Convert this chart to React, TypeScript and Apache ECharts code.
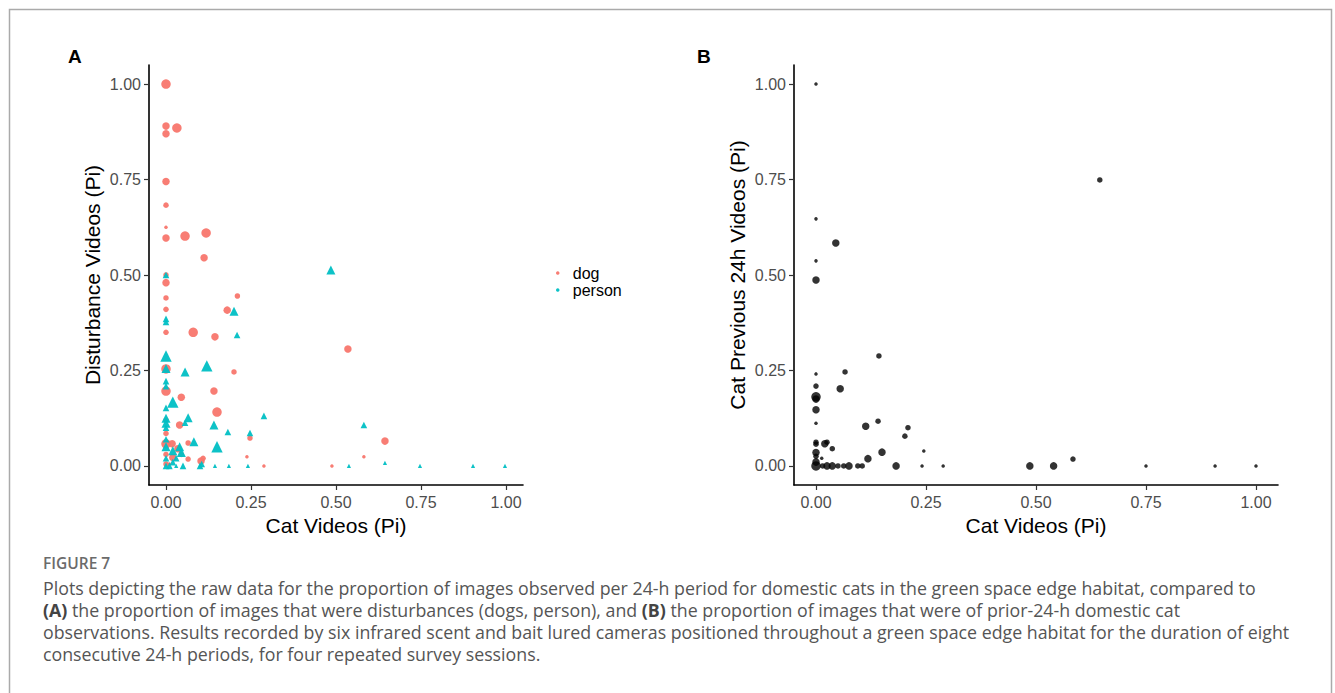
import React, { useEffect, useRef } from "react";
import * as echarts from "echarts";

// ---------- Data ----------
const tickValues = [0, 0.25, 0.5, 0.75, 1];

// Panel A: dog (x = cat videos Pi, y = disturbance Pi, s = size level 1..4)
const dogX = [0, 0, 0, 0.032, 0, 0, 0, 0, 0.056, 0.118, 0.112, 0, 0, 0.21, 0, 0.18, 0, 0, 0.08, 0.144, 0.535, 0, 0.2, 0, 0.141, 0.045, 0.15, 0.04, 0.644, 0.582, 0.247, 0.238, 0.288, 0.488, 0, 0.018, 0.02, 0.065, 0.065, 0.103, 0.109, 0.035, 0, 0, 0, 0, 0.045, 0.01];
const dogY = [1.0, 0.89, 0.87, 0.885, 0.745, 0.683, 0.625, 0.597, 0.602, 0.61, 0.545, 0.5, 0.48, 0.445, 0.44, 0.408, 0.41, 0.35, 0.35, 0.338, 0.306, 0.254, 0.246, 0.196, 0.196, 0.18, 0.141, 0.107, 0.065, 0.024, 0.073, 0.024, 0, 0, 0.058, 0.058, 0.022, 0.06, 0.018, 0.013, 0.02, 0.045, 0.12, 0.085, 0.03, 0.005, 0.03, 0.005];
const dogS = [4, 3, 3, 4, 3, 2, 1, 3, 4, 4, 3, 2, 3, 2, 2, 3, 2, 2, 4, 3, 3, 4, 2, 4, 3, 3, 4, 3, 3, 1, 2, 1, 1, 1, 4, 3, 3, 2, 2, 3, 2, 3, 2, 2, 2, 2, 2, 1];

// Panel A: person
const personX = [0, 0.485, 0, 0, 0.2, 0.209, 0, 0.12, 0.056, 0, 0, 0, 0.02, 0, 0, 0, 0, 0.065, 0.056, 0.141, 0.288, 0.582, 0.182, 0.247, 0.15, 0.082, 0.644, 0.538, 0.747, 0.903, 0.997, 0.144, 0.185, 0.241, 0, 0.02, 0.04, 0.045, 0.03, 0.01, 0.03, 0.1, 0.105, 0, 0, 0, 0.05, 0.02];
const personY = [0.5, 0.513, 0.385, 0.377, 0.405, 0.343, 0.288, 0.262, 0.246, 0.255, 0.222, 0.209, 0.167, 0.152, 0.125, 0.112, 0.1, 0.126, 0.113, 0.107, 0.131, 0.107, 0.089, 0.086, 0.05, 0.063, 0.008, 0, 0, 0, 0, 0, 0, 0, 0.05, 0.04, 0.05, 0.035, 0.02, 0, 0, 0, 0.005, 0.07, 0.02, 0, 0, 0.01];
const personS = [2, 3, 2, 2, 3, 2, 4, 4, 3, 3, 2, 2, 4, 2, 3, 3, 2, 3, 2, 3, 2, 2, 2, 2, 4, 3, 1, 1, 1, 1, 1, 1, 1, 1, 3, 3, 3, 3, 2, 2, 1, 2, 2, 2, 2, 2, 2, 2];

// Panel B: cat previous 24h
const prevX = [0, 0.645, 0, 0.045, 0, 0, 0.143, 0, 0.066, 0, 0, 0, 0.055, 0, 0, 0.113, 0.141, 0.209, 0.202, 0.245, 0.15, 0.118, 0, 0, 0.02, 0.025, 0.037, 0, 0, 0.013, 0, 0.015, 0.025, 0.037, 0.05, 0.063, 0.075, 0.095, 0.105, 0.182, 0.241, 0.289, 0.486, 0.54, 0.584, 0.75, 0.907, 1.0, 0];
const prevY = [1.0, 0.749, 0.647, 0.584, 0.537, 0.487, 0.288, 0.241, 0.246, 0.209, 0.181, 0.175, 0.202, 0.147, 0.112, 0.104, 0.117, 0.1, 0.078, 0.039, 0.036, 0.019, 0.062, 0.057, 0.058, 0.062, 0.045, 0.035, 0.025, 0.02, 0, 0, 0, 0, 0, 0, 0, 0, 0, 0, 0, 0, 0, 0, 0.018, 0, 0, 0, 0.01];
const prevS = [1, 2, 1, 3, 1, 3, 2, 1, 2, 2, 4, 3, 3, 3, 1, 3, 2, 2, 2, 1, 3, 3, 2, 2, 3, 2, 2, 3, 2, 1, 4, 2, 3, 3, 2, 2, 3, 2, 2, 3, 1, 1, 3, 3, 2, 1, 1, 1, 3];

const captionLines = [
  "Plots depicting the raw data for the proportion of images observed per 24-h period for domestic cats in the green space edge habitat, compared to",
  "{b|(A)} the proportion of images that were disturbances (dogs, person), and {b|(B)} the proportion of images that were of prior-24-h domestic cat",
  "observations. Results recorded by six infrared scent and bait lured cameras positioned throughout a green space edge habitat for the duration of eight",
  "consecutive 24-h periods, for four repeated survey sessions.",
];

// ---------- Styling ----------
const sizeA = [0, 3.5, 5.5, 7.5, 9.5];
const sizeB = [0, 3.5, 5.5, 7.5, 9.5];
const SANS = "'Liberation Sans', Arial, sans-serif";
const CAP = "'Open Sans', 'Noto Sans', sans-serif";

const zip = (xs: number[], ys: number[], ss: number[]) => xs.map((x, i) => [x, ys[i], ss[i]]);

function axisCommon(name: string, gap: number, margin: number) {
  return {
    type: "value",
    min: -0.05,
    max: 1.05,
    name,
    nameLocation: "middle",
    nameGap: gap,
    nameTextStyle: { fontFamily: SANS, fontSize: 21, color: "#000" },
    axisLine: { show: true, onZero: false, lineStyle: { color: "#000", width: 1.6 } },
    axisTick: { show: true, length: 5, customValues: tickValues, lineStyle: { color: "#333", width: 1.2 } },
    axisLabel: { customValues: tickValues, formatter: (v: number) => v.toFixed(2), fontFamily: SANS, fontSize: 16, color: "#4d4d4d", margin },
    splitLine: { show: false },
  };
}

export default function App() {
  const ref = useRef<HTMLDivElement>(null);
  useEffect(() => {
    document.body.style.margin = "0";
    const chart = echarts.init(ref.current!, null, { renderer: "svg" });
    chart.setOption({
      animation: false,
      backgroundColor: "#fff",
      grid: [
        { left: 149, top: 65, width: 374, height: 420 },
        { left: 794, top: 65, width: 484, height: 420 },
      ],
      xAxis: [
        { ...axisCommon("Cat Videos (Pi)", 29, 9), gridIndex: 0 },
        { ...axisCommon("Cat Videos (Pi)", 29, 9), gridIndex: 1 },
      ],
      yAxis: [
        { ...axisCommon("Disturbance Videos (Pi)", 46, 8), gridIndex: 0 },
        { ...axisCommon("Cat Previous 24h Videos (Pi)", 46, 8), gridIndex: 1 },
      ],
      legend: {
        data: ["dog", "person"],
        orient: "vertical",
        left: 551,
        top: 260,
        icon: "circle",
        itemWidth: 14,
        itemHeight: 3.5,
        itemGap: 1,
        textStyle: { fontFamily: SANS, fontSize: 16, color: "#000", padding: [0, 0, 0, 3] },
      },
      series: [
        {
          name: "dog",
          type: "scatter",
          xAxisIndex: 0,
          yAxisIndex: 0,
          symbol: "circle",
          symbolSize: (v: number[]) => sizeA[v[2]],
          itemStyle: { color: "#F8766D", opacity: 0.95 },
          data: zip(dogX, dogY, dogS),
        },
        {
          name: "person",
          type: "scatter",
          xAxisIndex: 0,
          yAxisIndex: 0,
          symbol: "triangle",
          symbolSize: (v: number[]) => sizeA[v[2]] * 1.2,
          itemStyle: { color: "#00BFC4", opacity: 0.95 },
          data: zip(personX, personY, personS),
        },
        {
          name: "previous",
          type: "scatter",
          xAxisIndex: 1,
          yAxisIndex: 1,
          symbol: "circle",
          symbolSize: (v: number[]) => sizeB[v[2]],
          itemStyle: { color: "#000" },
          data: zip(prevX, prevY, prevS),
        },
      ],
      graphic: [
        { type: "rect", shape: { x: 9.5, y: 9.5, width: 1322, height: 720 }, style: { fill: "none", stroke: "#aaaaaa", lineWidth: 1.5 }, silent: true },
        { type: "text", x: 68, y: 47, style: { text: "A", font: `bold 19px ${SANS}`, fill: "#000" } },
        { type: "text", x: 697, y: 47, style: { text: "B", font: `bold 19px ${SANS}`, fill: "#000" } },
        { type: "text", x: 43, y: 555, style: { text: "FIGURE 7", font: `600 15.5px ${CAP}`, fill: "#6b6b6b" } },
        ...captionLines.map((t, i) => ({
          type: "text",
          x: 43,
          y: 579 + i * 22,
          style: {
            text: t,
            font: `17.8px ${CAP}`,
            fill: "#555",
            rich: { b: { fontWeight: "bold", fontSize: 17.8, fontFamily: CAP, fill: "#444" } },
          },
        })),
      ],
    });
    return () => chart.dispose();
  }, []);
  return <div ref={ref} style={{ width: 1335, height: 693 }} />;
}
